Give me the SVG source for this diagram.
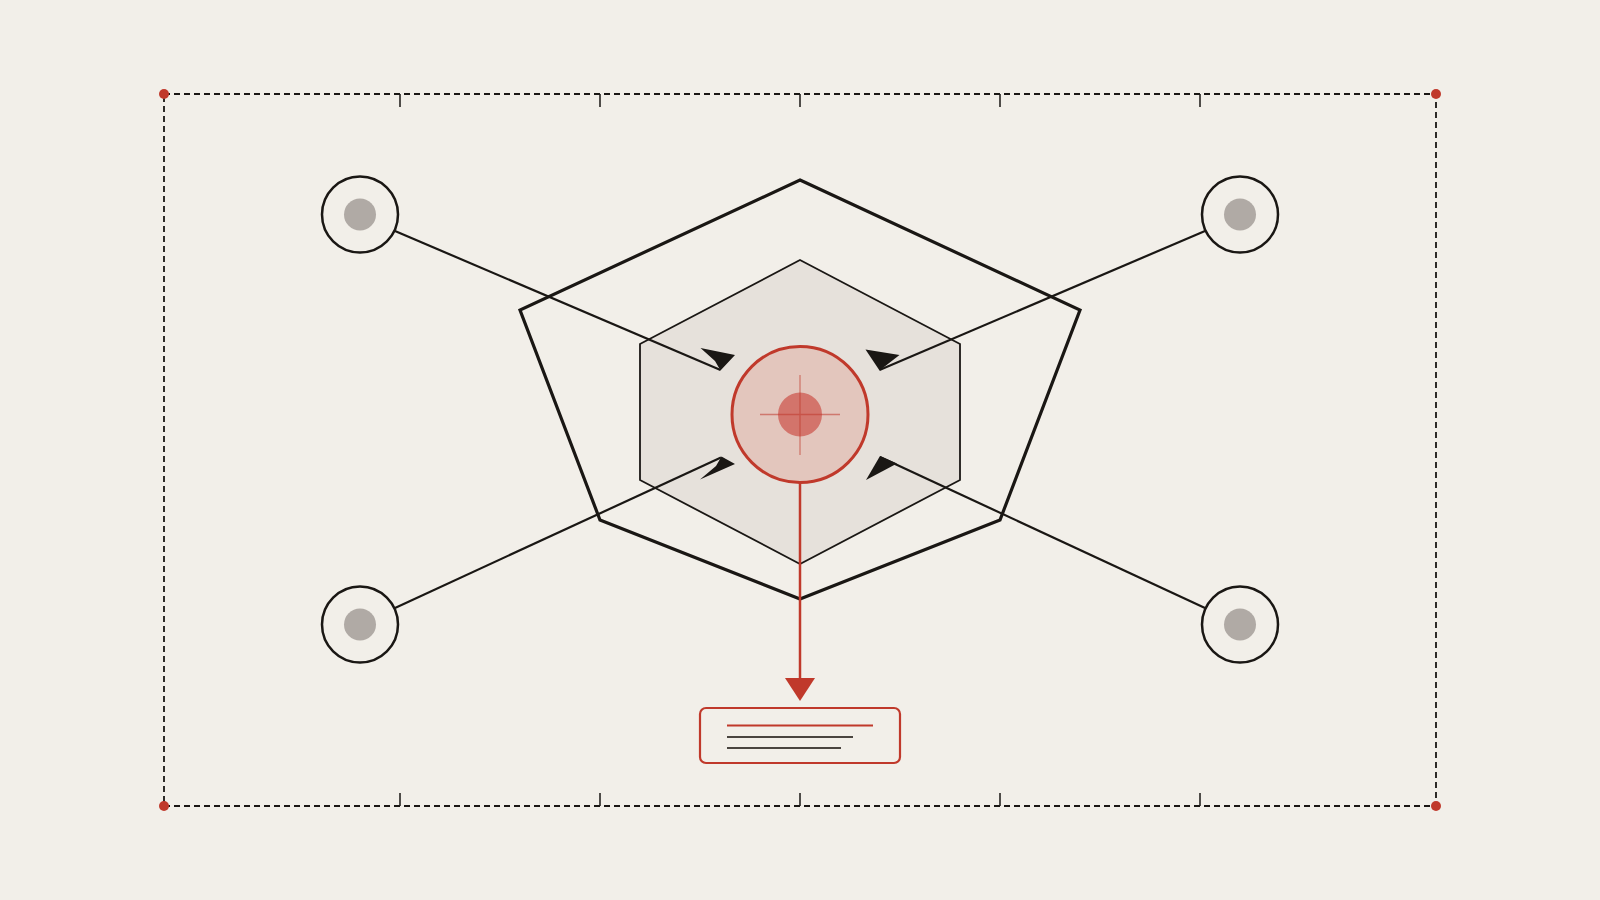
<svg xmlns="http://www.w3.org/2000/svg" width="1600" height="900" viewBox="0 0 1600 900">
<style>
.frame{fill:none;stroke:#1a1714;stroke-width:1.8;stroke-dasharray:6 4}
.tick{stroke:#1a1714;stroke-width:1.5}
.corner{fill:#c0392b}
.conn{stroke:#1a1714;stroke-width:2.2;fill:none}
.head{fill:#1a1714}
.sat{fill:#f2efe9;stroke:#1a1714;stroke-width:2.5}
.satdot{fill:#b0aaa5}
</style>
<rect width="1600" height="900" fill="#f2efe9"/>
<g id="frame">
<rect class="frame" x="164" y="94" width="1272" height="712"/>
<path class="tick" d="M400 94V107M600 94V107M800 94V107M1000 94V107M1200 94V107M400 806V793M600 806V793M800 806V793M1000 806V793M1200 806V793"/>
<circle class="corner" cx="164" cy="94" r="5"/>
<circle class="corner" cx="1436" cy="94" r="5"/>
<circle class="corner" cx="164" cy="806" r="5"/>
<circle class="corner" cx="1436" cy="806" r="5"/>
</g>
<g id="outer-hex">
<polygon points="800,180 1080,310 1000,520 800,599 600,520 520,310" fill="none" stroke="#1a1714" stroke-width="3.2" stroke-linejoin="miter"/>
</g>
<g id="inner-hex">
<polygon points="800,260 960,344 960,480 800,564 640,480 640,344" fill="#e6e1db" stroke="#1a1714" stroke-width="1.8"/>
</g>
<g id="connectors">
<line class="conn" x1="395" y1="231" x2="720.5" y2="370"/>
<line class="conn" x1="1205" y1="231" x2="879.5" y2="370"/>
<line class="conn" x1="395" y1="608" x2="721" y2="457.5"/>
<line class="conn" x1="1205" y1="608" x2="880" y2="457"/>
<polygon class="head" points="700.5,348 735,355 720.5,370.5 715,361"/>
<polygon class="head" points="865.5,349.5 899.5,355 879.5,370.5"/>
<polygon class="head" points="721.5,456.5 735,464 700,479.5 716,466"/>
<polygon class="head" points="880,456 897,463.5 866,480"/>
<line x1="800" y1="482" x2="800" y2="680" stroke="#c0392b" stroke-width="2.5"/>
<polygon points="785,678 815,678 800,701" fill="#c0392b"/>
</g>
<g id="center">
<circle cx="800" cy="414.5" r="68" fill="#e3c6bd" stroke="#c0392b" stroke-width="3"/>
<circle cx="800" cy="414.5" r="22" fill="#d06a62" fill-opacity="0.9"/>
<path d="M760 414.5H840M800 375V455" stroke="#c0392b" stroke-opacity="0.55" stroke-width="1.3"/>
</g>
<g id="node-tl"><circle class="sat" cx="360" cy="214.5" r="38"/><circle class="satdot" cx="360" cy="214.5" r="16"/></g>
<g id="node-tr"><circle class="sat" cx="1240" cy="214.5" r="38"/><circle class="satdot" cx="1240" cy="214.5" r="16"/></g>
<g id="node-bl"><circle class="sat" cx="360" cy="624.5" r="38"/><circle class="satdot" cx="360" cy="624.5" r="16"/></g>
<g id="node-br"><circle class="sat" cx="1240" cy="624.5" r="38"/><circle class="satdot" cx="1240" cy="624.5" r="16"/></g>
<g id="output-box">
<rect x="700" y="708" width="200" height="55" rx="6" fill="#f2efe9" stroke="#c0392b" stroke-width="2.2"/>
<line x1="727" y1="725.5" x2="873" y2="725.5" stroke="#c0392b" stroke-width="2.2"/>
<line x1="727" y1="737" x2="853" y2="737" stroke="#4a4540" stroke-width="2"/>
<line x1="727" y1="748" x2="841" y2="748" stroke="#4a4540" stroke-width="2"/>
</g>
</svg>
